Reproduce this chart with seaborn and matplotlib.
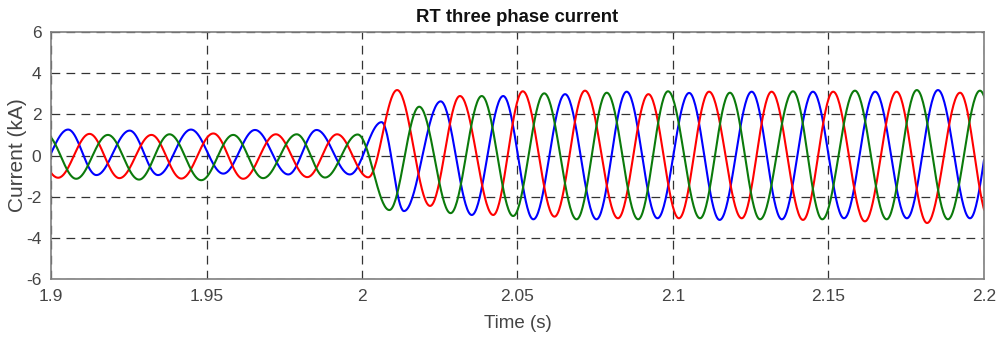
import numpy as np
import pandas as pd
import matplotlib
matplotlib.use("Agg")
import matplotlib.pyplot as plt
import seaborn as sns

# ---- data (extrema of each phase: time [s], current [kA]) ----
blue_t = [1.8948, 1.9055, 1.9146, 1.9253, 1.9344, 1.9450, 1.9554, 1.9656, 1.9763, 1.9854,
          1.9961, 2.0063, 2.0135, 2.0253, 2.0353, 2.0454, 2.0551, 2.0653, 2.0754, 2.0851,
          2.0950, 2.1052, 2.1150, 2.1253, 2.1350, 2.1450, 2.1550, 2.1650, 2.1752, 2.1852,
          2.1955, 2.2050]
blue_v = [-0.95, 1.26, -0.95, 1.21, -0.95, 1.26, -0.88, 1.24, -0.92, 1.24,
          -0.92, 1.62, -2.70, 2.63, -2.89, 2.89, -3.10, 2.98, -3.10, 3.10,
          -3.05, 3.04, -3.13, 3.10, -3.10, 3.10, -3.05, 3.10, -3.05, 3.18,
          -3.05, 3.10]

red_t = [1.8917, 1.9023, 1.9124, 1.9220, 1.9323, 1.9419, 1.9522, 1.9618, 1.9723, 1.9824,
         1.9920, 2.0020, 2.0113, 2.0219, 2.0315, 2.0422, 2.0517, 2.0619, 2.0717, 2.0823,
         2.0921, 2.1019, 2.1116, 2.1221, 2.1317, 2.1418, 2.1515, 2.1617, 2.1719, 2.1817,
         2.1923, 2.2017]
red_v = [1.05, -1.08, 1.05, -1.10, 1.00, -1.12, 1.07, -1.13, 1.03, -1.05,
         1.03, -1.06, 3.18, -2.45, 2.89, -2.89, 3.12, -2.97, 3.15, -3.05,
         2.98, -3.05, 3.10, -3.05, 3.10, -3.13, 3.10, -3.20, 3.10, -3.28,
         3.05, -3.10]

green_t = [1.8983, 1.9081, 1.9183, 1.9283, 1.9381, 1.9483, 1.9586, 1.9682, 1.9790, 1.9881,
           1.9986, 2.0088, 2.0184, 2.0285, 2.0385, 2.0486, 2.0586, 2.0690, 2.0787, 2.0888,
           2.0984, 2.1087, 2.1183, 2.1280, 2.1386, 2.1480, 2.1585, 2.1687, 2.1784, 2.1884,
           2.1987, 2.2084]
green_v = [1.03, -1.13, 1.00, -1.17, 1.03, -1.20, 1.00, -1.10, 1.03, -1.07,
           1.02, -2.65, 2.37, -2.80, 2.89, -2.94, 3.02, -3.10, 3.05, -3.10,
           3.12, -3.05, 3.05, -3.10, 3.12, -3.10, 3.15, -3.10, 3.18, -3.10,
           3.15, -3.10]

x_ticks = [1.9, 1.95, 2.0, 2.05, 2.1, 2.15, 2.2]
x_tick_labels = ["1.9", "1.95", "2", "2.05", "2.1", "2.15", "2.2"]
y_ticks = [-6, -4, -2, 0, 2, 4, 6]
y_tick_labels = ["-6", "-4", "-2", "0", "2", "4", "6"]


def waveform(tx, vx, n=40):
    """Smooth half-cosine shaping between consecutive read extrema."""
    ts, vs = [], []
    for i in range(len(tx) - 1):
        s = np.linspace(0, 1, n, endpoint=False)
        ts.append(tx[i] + (tx[i + 1] - tx[i]) * s)
        vs.append(vx[i] + (vx[i + 1] - vx[i]) * (1 - np.cos(np.pi * s)) / 2)
    ts.append([tx[-1]])
    vs.append([vx[-1]])
    return np.concatenate(ts), np.concatenate(vs)


frames = []
for name, tx, vx in [("A", blue_t, blue_v), ("B", red_t, red_v), ("C", green_t, green_v)]:
    t, v = waveform(tx, vx)
    frames.append(pd.DataFrame({"t": t, "i": v, "phase": name}))
df = pd.concat(frames, ignore_index=True)

sns.set_theme(style="white")
plt.rcParams["font.family"] = ["Liberation Sans", "DejaVu Sans"]

fig = plt.figure(figsize=(10.03, 3.40), dpi=100)
ax = fig.add_axes([51 / 1003, 61 / 340, 933 / 1003, 247 / 340])

palette = {"A": "#0000ff", "B": "#ff0000", "C": "#0b7a0b"}
sns.lineplot(data=df, x="t", y="i", hue="phase", palette=palette, ax=ax,
             linewidth=1.5, legend=False, sort=False, estimator=None)

ax.set_xlim(1.9, 2.2)
ax.set_ylim(-6, 6)
ax.set_xticks(x_ticks)
ax.set_xticklabels(x_tick_labels)
ax.set_yticks(y_ticks)
ax.set_yticklabels(y_tick_labels)

ax.grid(True, color="#333333", linestyle=(0, (7, 5)), linewidth=0.9)
ax.set_axisbelow(True)
for sp in ax.spines.values():
    sp.set_color("#7f7f7f")
    sp.set_linewidth(1.2)

ax.tick_params(axis="both", labelsize=12.5, labelcolor="#444444", length=0, pad=7)
ax.set_xlabel("Time (s)", fontsize=13.5, color="#444444", labelpad=8)
ax.set_ylabel("Current (kA)", fontsize=15, color="#444444")
ax.yaxis.set_label_coords(-0.026, 0.5)
ax.set_title("RT three phase current", fontsize=13.3, fontweight="bold", color="#111111", pad=7)

fig.savefig("out.png", dpi=100, facecolor="white")
